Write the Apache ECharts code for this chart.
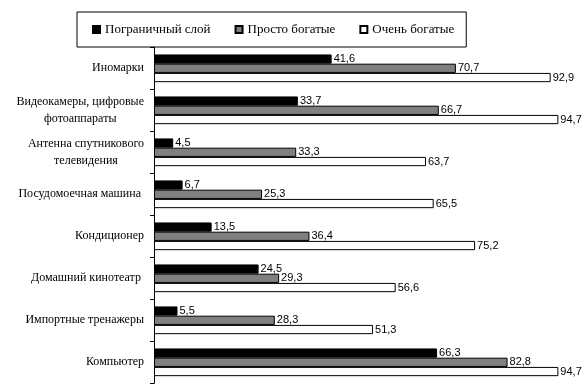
<!DOCTYPE html>
<html><head><meta charset="utf-8">
<script src="https://cdn.jsdelivr.net/npm/echarts@6/dist/echarts.min.js"></script>
<style>html,body{margin:0;padding:0;background:#fff}#c{width:586px;height:389px}</style>
</head><body><div id="c"></div>
<script>
var categories = ['Иномарки', 'Видеокамеры, цифровые\nфотоаппараты', 'Антенна спутникового\nтелевидения', 'Посудомоечная машина ', 'Кондиционер', 'Домашний кинотеатр ', 'Импортные тренажеры', 'Компьютер'];
var seriesNames = ['Пограничный слой', 'Просто богатые', 'Очень богатые'];
var borderline = [41.6, 33.7, 4.5, 6.7, 13.5, 24.5, 5.5, 66.3];
var justRich = [70.7, 66.7, 33.3, 25.3, 36.4, 29.3, 28.3, 82.8];
var veryRich = [92.9, 94.7, 63.7, 65.5, 75.2, 56.6, 51.3, 94.7];
var colors = ['#000000', '#808080', '#ffffff'];

var serif = '"Liberation Serif", "Times New Roman", serif';
var sans = '"Liberation Sans", Arial, sans-serif';

function mk(name, data, color) {
  return {
    name: name, type: 'bar', data: data,
    barGap: '0%', barCategoryGap: '34%',
    itemStyle: { color: color, borderColor: '#000', borderWidth: 1 },
    label: {
      show: true, position: 'right', distance: 2,
      fontFamily: sans, fontSize: 11, color: '#000',
      formatter: function (p) { return String(p.value).replace('.', ','); }
    },
    animation: false
  };
}

var chart = echarts.init(document.getElementById('c'));
chart.setOption({
  animation: false,
  legend: {
    left: 77, top: 12,
    padding: [11, 12, 11, 15],
    borderColor: '#000', borderWidth: 1,
    itemWidth: 7, itemHeight: 7, itemGap: 24,
    textStyle: { fontFamily: serif, fontSize: 13, color: '#000' },
    data: seriesNames.map(function (n) { return { name: n, icon: 'rect' }; }),
    selectedMode: false
  },
  grid: { left: 154, right: 5, top: 47.3, bottom: 5.7 },
  xAxis: {
    type: 'value', min: 0, max: 100, show: false
  },
  yAxis: {
    type: 'category', inverse: true, data: categories,
    axisLine: { show: true, lineStyle: { color: '#000', width: 1 } },
    axisTick: { show: true, inside: false, length: 4, lineStyle: { color: '#000', width: 1 } },
    axisLabel: {
      margin: 10, color: '#000', fontFamily: serif, fontSize: 12, lineHeight: 17,
      formatter: function (v) {
        return v.split('\n').map(function (l) { return '{c|' + l + '}'; }).join('\n');
      },
      rich: { c: { align: 'center', fontFamily: serif, fontSize: 12, lineHeight: 17, color: '#000' } }
    }
  },
  series: [mk(seriesNames[0], borderline, colors[0]), mk(seriesNames[1], justRich, colors[1]), mk(seriesNames[2], veryRich, colors[2])]
});
</script></body></html>
